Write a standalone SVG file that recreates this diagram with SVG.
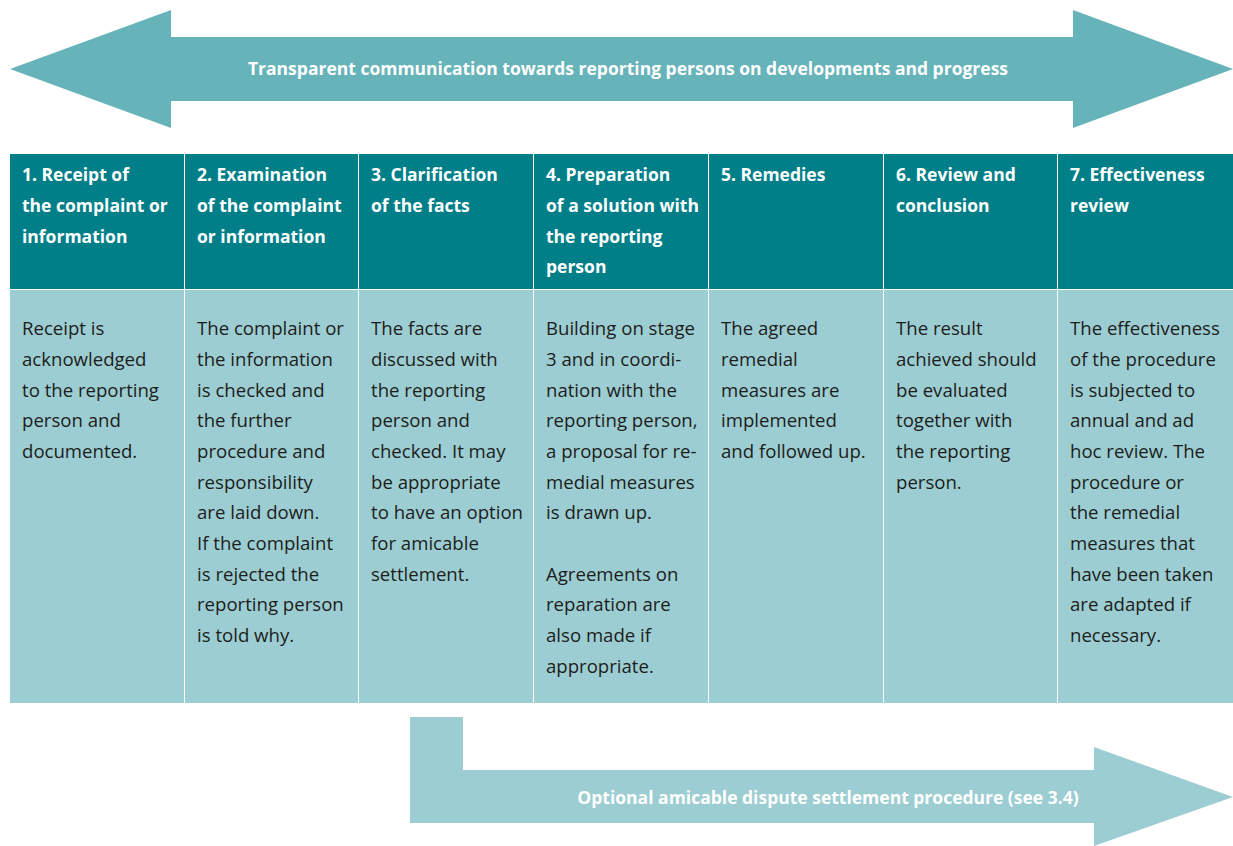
<svg xmlns="http://www.w3.org/2000/svg" width="1233" height="846" viewBox="0 0 1233 846">
  <style>
    .hd { fill: #007f89; }
    .bd { fill: #9ccdd2; }
    .ht { font-family: "Open Sans", "Liberation Sans", sans-serif; font-weight: bold; font-size: 17.5px; fill: #ffffff; }
    .bt { font-family: "Open Sans", "Liberation Sans", sans-serif; font-size: 18.6px; fill: #1d1d1b; }
    .at { font-family: "Open Sans", "Liberation Sans", sans-serif; font-weight: bold; font-size: 17.5px; fill: #ffffff; text-anchor: middle; }
  </style>
  <rect width="1233" height="846" fill="#ffffff"/>

  <g id="connectors">
    <!-- double-headed communication arrow -->
    <path id="arrow-top" d="M10,69 L171,10 L171,37 L1073,37 L1073,10 L1233,69 L1073,128 L1073,101 L171,101 L171,128 Z" fill="#66b3b9"/>
    <!-- bent arrow for the optional settlement procedure -->
    <path id="arrow-bottom" d="M410,717 L463,717 L463,770 L1094,770 L1094,747 L1233,797 L1094,846 L1094,823 L410,823 Z" fill="#9ccdd2"/>
  </g>
  <text class="at" x="628" y="75">Transparent communication towards reporting persons on developments and progress</text>
  <text class="at" x="828" y="804" fill="#f2f9fa">Optional amicable dispute settlement procedure (see 3.4)</text>

  <g id="stage1">
    <rect class="hd" x="10" y="154" width="174" height="135"/>
    <rect class="bd" x="10" y="290" width="174" height="413"/>
    <text class="ht" x="22"><tspan x="22" y="181">1. Receipt of</tspan><tspan x="22" y="212">the complaint or</tspan><tspan x="22" y="243">information</tspan></text>
    <text class="bt"><tspan x="22" y="335">Receipt is</tspan><tspan x="22" y="366">acknowledged</tspan><tspan x="22" y="397">to the reporting</tspan><tspan x="22" y="427">person and</tspan><tspan x="22" y="458">documented.</tspan></text>
  </g>

  <g id="stage2">
    <rect class="hd" x="185" y="154" width="173" height="135"/>
    <rect class="bd" x="185" y="290" width="173" height="413"/>
    <text class="ht"><tspan x="197" y="181">2. Examination</tspan><tspan x="197" y="212">of the complaint</tspan><tspan x="197" y="243">or information</tspan></text>
    <text class="bt"><tspan x="197" y="335">The complaint or</tspan><tspan x="197" y="366">the information</tspan><tspan x="197" y="397">is checked and</tspan><tspan x="197" y="427">the further</tspan><tspan x="197" y="458">procedure and</tspan><tspan x="197" y="489">responsibility</tspan><tspan x="197" y="519">are laid down.</tspan><tspan x="197" y="550">If the complaint</tspan><tspan x="197" y="581">is rejected the</tspan><tspan x="197" y="611">reporting person</tspan><tspan x="197" y="642">is told why.</tspan></text>
  </g>

  <g id="stage3">
    <rect class="hd" x="359" y="154" width="174" height="135"/>
    <rect class="bd" x="359" y="290" width="174" height="413"/>
    <text class="ht"><tspan x="371" y="181">3. Clarification</tspan><tspan x="371" y="212">of the facts</tspan></text>
    <text class="bt"><tspan x="371" y="335">The facts are</tspan><tspan x="371" y="366">discussed with</tspan><tspan x="371" y="397">the reporting</tspan><tspan x="371" y="427">person and</tspan><tspan x="371" y="458">checked. It may</tspan><tspan x="371" y="489">be appropriate</tspan><tspan x="371" y="519">to have an option</tspan><tspan x="371" y="550">for amicable</tspan><tspan x="371" y="581">settlement.</tspan></text>
  </g>

  <g id="stage4">
    <rect class="hd" x="534" y="154" width="174" height="135"/>
    <rect class="bd" x="534" y="290" width="174" height="413"/>
    <text class="ht"><tspan x="546" y="181">4. Preparation</tspan><tspan x="546" y="212">of a solution with</tspan><tspan x="546" y="243">the reporting</tspan><tspan x="546" y="273">person</tspan></text>
    <text class="bt"><tspan x="546" y="335">Building on stage</tspan><tspan x="546" y="366">3 and in coordi-</tspan><tspan x="546" y="397">nation with the</tspan><tspan x="546" y="427">reporting person,</tspan><tspan x="546" y="458">a proposal for re-</tspan><tspan x="546" y="489">medial measures</tspan><tspan x="546" y="519">is drawn up.</tspan><tspan x="546" y="581">Agreements on</tspan><tspan x="546" y="611">reparation are</tspan><tspan x="546" y="642">also made if</tspan><tspan x="546" y="673">appropriate.</tspan></text>
  </g>

  <g id="stage5">
    <rect class="hd" x="709" y="154" width="174" height="135"/>
    <rect class="bd" x="709" y="290" width="174" height="413"/>
    <text class="ht"><tspan x="721" y="181">5. Remedies</tspan></text>
    <text class="bt"><tspan x="721" y="335">The agreed</tspan><tspan x="721" y="366">remedial</tspan><tspan x="721" y="397">measures are</tspan><tspan x="721" y="427">implemented</tspan><tspan x="721" y="458">and followed up.</tspan></text>
  </g>

  <g id="stage6">
    <rect class="hd" x="884" y="154" width="173" height="135"/>
    <rect class="bd" x="884" y="290" width="173" height="413"/>
    <text class="ht"><tspan x="896" y="181">6. Review and</tspan><tspan x="896" y="212">conclusion</tspan></text>
    <text class="bt"><tspan x="896" y="335">The result</tspan><tspan x="896" y="366">achieved should</tspan><tspan x="896" y="397">be evaluated</tspan><tspan x="896" y="427">together with</tspan><tspan x="896" y="458">the reporting</tspan><tspan x="896" y="489">person.</tspan></text>
  </g>

  <g id="stage7">
    <rect class="hd" x="1058" y="154" width="175" height="135"/>
    <rect class="bd" x="1058" y="290" width="175" height="413"/>
    <text class="ht"><tspan x="1070" y="181">7. Effectiveness</tspan><tspan x="1070" y="212">review</tspan></text>
    <text class="bt"><tspan x="1070" y="335">The effectiveness</tspan><tspan x="1070" y="366">of the procedure</tspan><tspan x="1070" y="397">is subjected to</tspan><tspan x="1070" y="427">annual and ad</tspan><tspan x="1070" y="458">hoc review. The</tspan><tspan x="1070" y="489">procedure or</tspan><tspan x="1070" y="519">the remedial</tspan><tspan x="1070" y="550">measures that</tspan><tspan x="1070" y="581">have been taken</tspan><tspan x="1070" y="611">are adapted if</tspan><tspan x="1070" y="642">necessary.</tspan></text>
  </g>
</svg>
